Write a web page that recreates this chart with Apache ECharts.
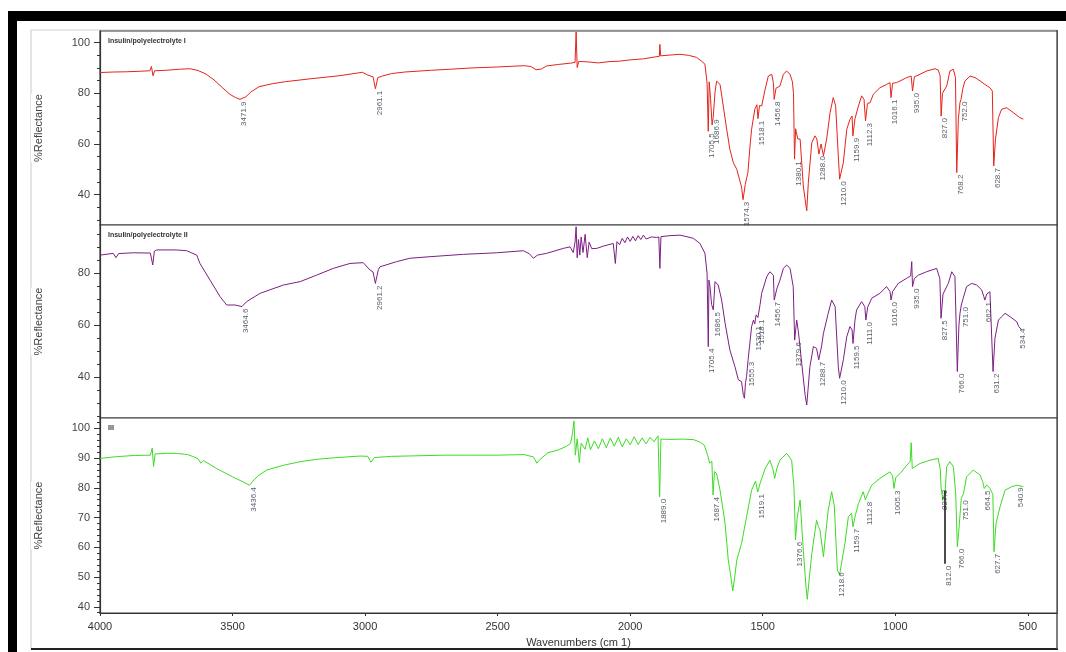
<!DOCTYPE html>
<html><head><meta charset="utf-8">
<script src="https://cdn.jsdelivr.net/npm/echarts@6/dist/echarts.min.js"></script>
<style>html,body{margin:0;padding:0;background:#fff}#c{width:1066px;height:652px}</style>
</head><body><div id="c"></div>
<script>
const xTicks = [4000,3500,3000,2500,2000,1500,1000,500];
const yTicks1 = [40,60,80,100];
const yMinor1 = [30,35,40,45,50,55,60,65,70,75,80,85,90,95,100];
const yTicks2 = [40,60,80];
const yMinor2 = [25,30,35,40,45,50,55,60,65,70,75,80,85,90,95];
const yTicks3 = [40,50,60,70,80,90,100];
const yMinor3 = [38,40,42,44,46,48,50,52,54,56,58,60,62,64,66,68,70,72,74,76,78,80,82,84,86,88,90,92,94,96,98,100,102];

const titles = ['Insulin/polyelectrolyte I','Insulin/polyelectrolyte II','III'];

const red = [[4000,88.2],[3950,88.4],[3900,88.5],[3850,88.7],[3812,88.9],[3806,90.6],[3800,86.9],[3794,88.9],[3750,89.1],[3700,89.5],[3660,89.7],[3630,89.0],[3600,87.6],[3570,85.3],[3540,82.4],[3510,79.6],[3490,78.4],[3471.9,77.6],[3450,78.6],[3430,80.6],[3400,82.6],[3350,83.8],[3300,84.6],[3200,85.8],[3100,86.9],[3010,88.3],[2990,87.2],[2970,86.5],[2961.1,81.8],[2952,86.2],[2935,86.8],[2900,87.8],[2850,88.4],[2750,89.1],[2680,89.5],[2600,90.0],[2500,90.4],[2400,90.9],[2375,90.6],[2355,89.3],[2335,89.6],[2315,90.8],[2270,91.4],[2225,91.9],[2208,92.2],[2204,104.2],[2200,90.2],[2194,92.6],[2160,92.4],[2120,92.0],[2080,92.5],[2040,92.7],[2000,93.2],[1950,93.6],[1910,94.3],[1890,94.6],[1888,99.3],[1885,94.8],[1850,95.1],[1812,95.4],[1780,95.0],[1750,94.2],[1730,92.6],[1718,91.5],[1710,84.0],[1705.5,65.0],[1702,84.5],[1697,78.0],[1691,67.5],[1686.9,70.5],[1680,80.5],[1674,84.8],[1661,83.5],[1649,75.0],[1636,65.8],[1624,57.9],[1611,52.6],[1598,50.0],[1588,46.1],[1580,43.0],[1574.3,38.0],[1566,44.0],[1556,48.7],[1548,59.2],[1542,65.8],[1530,73.7],[1522,75.5],[1518.1,70.0],[1512,75.2],[1504,75.0],[1491,81.6],[1479,86.8],[1466,87.5],[1460,84.2],[1456.8,77.6],[1450,82.0],[1435,82.9],[1422,87.5],[1410,88.8],[1397,87.5],[1388,84.5],[1384,80.0],[1380.1,54.0],[1376,66.0],[1368,62.0],[1359,61.9],[1347,43.4],[1340,38.0],[1334,33.6],[1328,44.8],[1315,60.5],[1303,63.2],[1296,62.0],[1288.0,56.0],[1280,60.0],[1271,55.3],[1259,61.9],[1246,72.4],[1234,78.3],[1225,75.0],[1215,55.3],[1210.0,46.1],[1196,52.6],[1183,65.8],[1171,69.7],[1163,71.0],[1159.9,63.2],[1152,70.0],[1139,75.0],[1127,79.0],[1118,77.6],[1112.3,69.1],[1105,76.0],[1095,76.3],[1083,79.6],[1058,82.2],[1033,83.5],[1020,84.2],[1016.1,78.3],[1010,84.0],[995,84.2],[957,86.2],[940,86.8],[935.0,80.9],[928,86.5],[907,87.5],[882,88.8],[850,89.7],[838,89.2],[831,87.0],[827.0,71.0],[822,80.0],[806,82.9],[794,88.8],[781,89.5],[773,86.2],[768.2,48.7],[762,70.0],[756,76.3],[752.0,77.6],[745,82.0],[737,84.9],[718,86.8],[699,86.2],[680,84.9],[662,83.5],[643,82.2],[634,80.9],[628.7,51.3],[622,62.0],[611,70.4],[599,73.7],[580,74.3],[555,72.4],[530,70.4],[517,69.8]];

const purple = [[4000,87.0],[3950,87.7],[3940,86.0],[3930,87.6],[3874,87.9],[3810,87.8],[3801,83.2],[3795,88.5],[3786,89.0],[3711,89.0],[3673,88.7],[3635,87.0],[3623,83.8],[3585,77.4],[3547,71.0],[3522,67.8],[3490,67.8],[3464.6,67.2],[3447,69.1],[3396,72.3],[3308,75.5],[3245,76.8],[3183,79.3],[3120,81.9],[3057,83.8],[3007,84.1],[2982,81.3],[2970,80.5],[2961.2,76.1],[2950,81.5],[2944,82.5],[2881,84.5],[2831,85.8],[2755,86.4],[2629,87.3],[2504,87.9],[2403,88.7],[2380,87.5],[2365,85.8],[2350,87.0],[2315,87.7],[2252,89.6],[2227,90.2],[2215,88.0],[2208,92.0],[2204,97.9],[2200,86.0],[2195,93.0],[2190,87.0],[2185,94.0],[2178,88.0],[2170,95.0],[2162,86.0],[2155,92.0],[2145,89.5],[2126,89.6],[2100,90.5],[2064,91.5],[2056,83.8],[2050,92.2],[2040,91.0],[2030,93.5],[2020,91.8],[2010,94.0],[2000,92.3],[1990,94.2],[1980,92.5],[1970,94.5],[1960,93.0],[1950,94.7],[1940,93.2],[1920,94.0],[1900,93.8],[1892,94.0],[1888,81.9],[1884,94.1],[1850,94.5],[1812,94.7],[1762,93.5],[1737,91.5],[1718,87.7],[1710,80.0],[1705.4,51.8],[1703,77.4],[1699,74.9],[1693,68.0],[1686.5,65.9],[1680,76.8],[1668,75.5],[1655,69.7],[1642,60.8],[1624,50.5],[1605,44.1],[1592,39.0],[1580,38.3],[1573,33.0],[1569,31.9],[1565,38.0],[1561,40.2],[1555.3,46.7],[1542,59.5],[1535,62.0],[1530.1,60.5],[1525,64.0],[1518.1,63.0],[1510,68.0],[1504,72.3],[1485,78.7],[1473,80.6],[1460,79.3],[1456.7,69.7],[1447,74.0],[1435,77.4],[1422,81.9],[1410,83.2],[1397,81.9],[1385,74.9],[1379.6,54.3],[1372,62.0],[1366,58.0],[1353,45.4],[1340,33.0],[1334,29.3],[1322,44.1],[1309,51.8],[1297,51.1],[1288.7,46.7],[1278,52.0],[1271,56.9],[1253,64.6],[1240,69.7],[1227,67.2],[1215,44.1],[1210.0,39.6],[1196,46.7],[1183,55.6],[1171,59.5],[1163,58.2],[1159.5,53.0],[1152,62.0],[1146,65.9],[1127,69.1],[1115,67.2],[1111.0,62.0],[1104,67.0],[1089,70.4],[1058,72.3],[1033,74.9],[1020,73.0],[1016.0,69.7],[1010,73.0],[989,76.1],[957,78.1],[942,79.0],[938,84.5],[935.0,74.9],[928,78.0],[913,79.3],[882,80.6],[844,81.9],[832,78.0],[827.5,62.7],[820,72.0],[800,76.1],[787,80.6],[775,78.7],[766.0,42.2],[760,60.0],[756,64.6],[751.0,67.8],[745,70.0],[731,74.9],[712,76.1],[693,75.5],[674,73.6],[666,71.0],[662.1,69.7],[655,72.0],[643,72.9],[636,72.3],[631.2,42.2],[624,55.0],[611,62.0],[599,63.3],[586,64.6],[567,63.3],[542,61.4],[534.4,59.5],[523,58.2]];

const green = [[4000,89.9],[3937,90.5],[3870,90.9],[3810,91.0],[3803,93.4],[3798,87.2],[3792,91.4],[3750,91.6],[3711,91.6],[3670,91.2],[3648,90.5],[3630,89.8],[3620,88.3],[3610,89.2],[3560,86.5],[3500,83.7],[3460,82.0],[3436.4,80.9],[3420,82.6],[3400,84.3],[3371,86.0],[3308,87.6],[3245,88.8],[3183,89.6],[3120,90.1],[3019,90.7],[2990,90.6],[2978,88.6],[2965,90.2],[2900,90.6],[2800,90.8],[2700,91.0],[2600,91.0],[2500,91.0],[2400,91.2],[2365,90.4],[2352,88.3],[2340,89.6],[2310,91.8],[2270,92.8],[2240,94.0],[2225,95.0],[2218,98.2],[2212,102.5],[2207,91.0],[2200,96.5],[2192,88.5],[2185,95.0],[2170,93.0],[2160,96.8],[2150,92.8],[2135,95.8],[2120,93.2],[2105,96.5],[2090,93.5],[2075,96.8],[2060,94.0],[2045,97.0],[2030,93.8],[2015,96.5],[2000,94.5],[1985,97.2],[1970,94.6],[1955,96.8],[1940,94.8],[1925,97.0],[1910,95.5],[1895,97.5],[1889.0,77.0],[1884,96.4],[1850,96.3],[1800,96.4],[1760,96.2],[1735,95.3],[1720,94.3],[1708,91.0],[1700,88.3],[1692,89.0],[1687.4,77.6],[1682,85.5],[1674,84.8],[1661,79.2],[1642,68.0],[1630,55.7],[1620,50.0],[1613,45.3],[1605,50.5],[1598,55.7],[1580,61.3],[1561,70.3],[1542,79.2],[1527,82.3],[1519.1,78.6],[1510,81.5],[1491,86.5],[1473,89.3],[1462,86.5],[1455,83.2],[1446,86.8],[1435,89.3],[1410,91.6],[1391,89.3],[1382,80.0],[1376.6,62.5],[1370,70.0],[1359,75.9],[1347,59.0],[1338,48.0],[1332,42.5],[1324,50.0],[1315,57.9],[1297,69.1],[1290,67.0],[1284,65.8],[1271,56.8],[1262,65.0],[1253,72.5],[1240,78.7],[1230,74.0],[1218.6,52.3],[1210,50.8],[1202,55.0],[1190,61.3],[1177,70.3],[1165,71.4],[1159.7,66.9],[1150,71.0],[1139,74.7],[1121,78.7],[1112.8,76.0],[1104,78.0],[1089,80.9],[1058,83.2],[1020,85.4],[1010,84.0],[1005.3,79.8],[998,83.5],[982,84.8],[957,87.6],[944,88.8],[940,95.2],[936,86.5],[907,88.2],[869,89.3],[838,89.9],[830,86.0],[827.3,80.0],[820,76.0],[812.0,79.0],[806,87.1],[794,88.8],[781,87.1],[772,78.0],[766.0,60.2],[760,66.0],[751.0,76.5],[743,78.0],[731,83.7],[706,86.0],[680,84.3],[670,82.0],[664.5,79.8],[655,81.0],[643,79.8],[632,77.8],[627.7,58.5],[620,68.0],[605,73.6],[586,79.2],[561,80.4],[540.9,80.9],[517,80.4]];

// peak labels: text, optional label value (when the label hangs off a marker line)
const peaks1 = ['3471.9','2961.1','1705.5','1686.9','1574.3','1518.1','1456.8','1380.1','1288.0','1210.0','1159.9','1112.3','1016.1','935.0','827.0','768.2','752.0','628.7'];
const peaks2 = ['3464.6','2961.2','1705.4','1686.5','1555.3','1530.1','1518.1','1456.7','1379.6','1288.7','1210.0','1159.5','1111.0','1016.0','935.0','827.5','766.0','751.0','662.1','631.2','534.4'];
const peaks3 = ['3436.4','1889.0','1687.4','1519.1','1376.6','1218.6','1159.7','1112.8','1005.3','827.3',['812.0',54.5],'766.0','751.0','664.5','627.7','540.9'];
// marker line in panel III: [wavenumber, top value, bottom value]
const marker3 = [812.0, 79.0, 54.5];

const colors = ['#e5231b','#7d1f82','#3ddc24'];
const spectra = [red, purple, green];
const peakSets = [peaks1, peaks2, peaks3];
const yRanges = [[28,104.6],[24.3,98.6],[37.9,103.5]];
const yMajor = [yTicks1, yTicks2, yTicks3];
const yMinor = [yMinor1, yMinor2, yMinor3];
const gridBoxes = [{top:31,height:194},{top:225,height:193},{top:418,height:195}];

const FONT = 'Liberation Sans, Arial, sans-serif';
const plain = v => String(v);
const grid=[], xAxis=[], yAxis=[], series=[], title=[];
for (let i=0;i<3;i++){
  grid.push({left:100, width:957, top:gridBoxes[i].top, height:gridBoxes[i].height, show:true, borderColor:'#3a3a3a', borderWidth:1.2, backgroundColor:'#fff'});
  xAxis.push({type:'value', gridIndex:i, inverse:true, min:390, max:4000,
    axisLine:{show:i===2, onZero:false, lineStyle:{color:'#333',width:1.2}},
    axisTick:{show:i===2, length:3, customValues:xTicks, lineStyle:{color:'#333'}},
    axisLabel:{show:i===2, customValues:xTicks, formatter:plain, fontSize:11, color:'#333', fontFamily:FONT, margin:8},
    splitLine:{show:false},
    name: i===2 ? 'Wavenumbers (cm 1)' : '', nameLocation:'middle', nameGap:24,
    nameTextStyle:{fontSize:11, color:'#333', fontFamily:FONT}});
  yAxis.push({type:'value', gridIndex:i, position:'left', min:yRanges[i][0], max:yRanges[i][1],
    axisLine:{show:true, lineStyle:{color:'#333',width:1.2}},
    axisTick:{show:true, length:6, customValues:yMajor[i], lineStyle:{color:'#333'}},
    axisLabel:{customValues:yMajor[i], formatter:plain, fontSize:11, color:'#444', fontFamily:FONT, margin:10},
    splitLine:{show:false},
    name:'%Reflectance', nameLocation:'middle', nameRotate:90, nameGap:54,
    nameTextStyle:{fontSize:11, color:'#444', fontFamily:FONT, backgroundColor:'#fff', padding:[2,0]}});
  yAxis.push({type:'value', gridIndex:i, position:'left', offset:0, min:yRanges[i][0], max:yRanges[i][1],
    axisLine:{show:false}, axisTick:{show:true, length:3, customValues:yMinor[i], lineStyle:{color:'#333'}},
    axisLabel:{show:false}, splitLine:{show:false}});
  const lineSeries = {type:'line', xAxisIndex:i, yAxisIndex:2*i, data:spectra[i], showSymbol:false, symbol:'none',
    lineStyle:{color:colors[i], width:1}, silent:true, animation:false, z:3};
  if (i===2) {
    lineSeries.markLine = {silent:true, symbol:['none','none'], label:{show:false}, animation:false,
      lineStyle:{color:'#111', width:1.5, type:'solid'},
      data:[[{coord:[marker3[0],marker3[1]]},{coord:[marker3[0],marker3[2]]}]]};
  }
  series.push(lineSeries);
  const pdata = peakSets[i].map(entry=>{
    const t = Array.isArray(entry) ? entry[0] : entry;
    const w=parseFloat(t);
    let best=spectra[i][0];
    spectra[i].forEach(p=>{ if(Math.abs(p[0]-w)<Math.abs(best[0]-w)) best=p; });
    const v = Array.isArray(entry) ? entry[1] : best[1];
    return {name:t, value:[w,v]};
  });
  series.push({type:'scatter', xAxisIndex:i, yAxisIndex:2*i, data:pdata, symbolSize:0.1, silent:true, animation:false, z:4,
    label:{show:true, formatter:'{b}', position:'bottom', distance:2, rotate:90, align:'right', verticalAlign:'top',
      fontSize:8, color:'#2a3442', fontFamily:FONT}});
  title.push({text:titles[i], left:103, top:gridBoxes[i].top+2, textStyle:{fontSize:7, fontWeight:'bold', color:'#333', fontFamily:FONT}});
}

const chart = echarts.init(document.getElementById('c'), null, {renderer:'canvas'});
chart.setOption({
  animation:false, backgroundColor:'#fff', title, grid, xAxis, yAxis, series,
  graphic:[
    {type:'rect', shape:{x:8,y:11,width:1058,height:10}, style:{fill:'#000'}, z:10},
    {type:'rect', shape:{x:8,y:11,width:9,height:641}, style:{fill:'#000'}, z:10},
    {type:'line', shape:{x1:31,y1:30,x2:1057,y2:30}, style:{stroke:'#d0d0d0',lineWidth:1}, z:-1},
    {type:'line', shape:{x1:31,y1:30,x2:31,y2:649}, style:{stroke:'#c8c8c8',lineWidth:1}, z:-1},
    {type:'line', shape:{x1:31,y1:649,x2:1058,y2:649}, style:{stroke:'#222',lineWidth:2}, z:-1},
    {type:'line', shape:{x1:1057,y1:30,x2:1057,y2:649}, style:{stroke:'#555',lineWidth:1.5}, z:-1}
  ]
});
</script></body></html>
